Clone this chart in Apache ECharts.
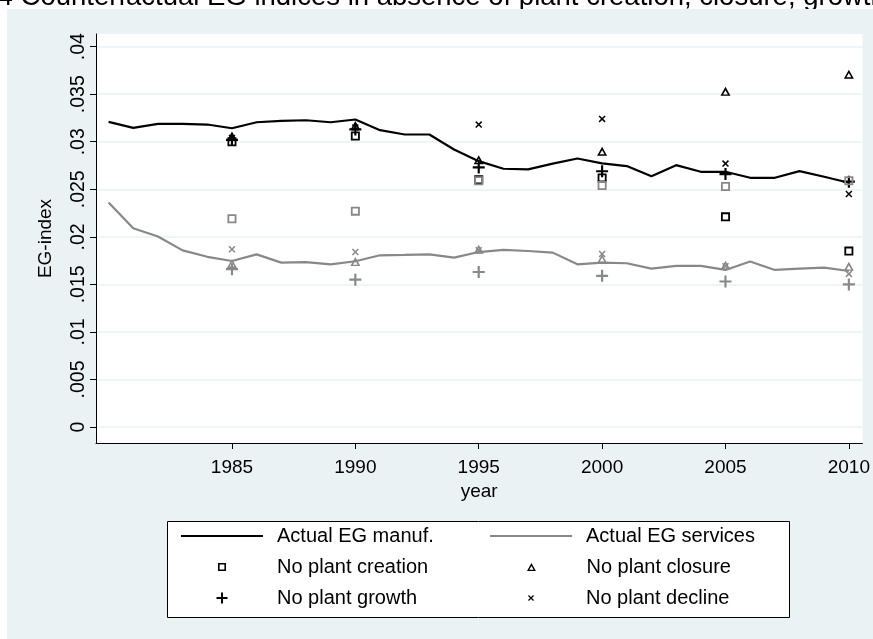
<!DOCTYPE html>
<html><head><meta charset="utf-8">
<script src="https://cdn.jsdelivr.net/npm/echarts@6/dist/echarts.min.js"></script>
<style>html,body{margin:0;padding:0;background:#fff}#c{width:873px;height:639px}</style>
</head><body><div id="c"></div>
<script>
const years = [1980,1981,1982,1983,1984,1985,1986,1987,1988,1989,1990,1991,1992,1993,1994,1995,1996,1997,1998,1999,2000,2001,2002,2003,2004,2005,2006,2007,2008,2009,2010];
const manufActual = [0.03209,0.03146,0.03188,0.03188,0.03181,0.03142,0.03205,0.03220,0.03226,0.03205,0.03234,0.03122,0.03076,0.03076,0.02919,0.02796,0.02716,0.02709,0.02770,0.02824,0.02772,0.02744,0.02638,0.02754,0.02684,0.02684,0.02621,0.02621,0.02691,0.02632,0.02569];
const servicesActual = [0.02362,0.02090,0.02003,0.01858,0.01790,0.01746,0.01816,0.01729,0.01735,0.01710,0.01743,0.01806,0.01810,0.01816,0.01781,0.01840,0.01862,0.01851,0.01834,0.01711,0.01729,0.01722,0.01666,0.01694,0.01694,0.01652,0.01740,0.01652,0.01666,0.01677,0.01641];
const cfYears = [1985,1990,1995,2000,2005,2010];
const manufNoCreation = [0.0300,0.0306,0.0260,0.0262,0.0221,0.0185];
const manufNoClosure  = [0.0306,0.0317,0.0281,0.0290,0.0353,0.0371];
const manufNoGrowth   = [0.0302,0.0313,0.0273,0.0269,0.0266,0.0258];
const manufNoDecline  = [0.0304,0.0315,0.0318,0.0324,0.0277,0.0245];
const servNoCreation  = [0.0219,0.0227,0.0259,0.0254,0.0253,0.0259];
const servNoClosure   = [0.0172,0.0174,0.0187,0.0177,0.0170,0.0169];
const servNoGrowth    = [0.0166,0.0155,0.0163,0.0159,0.0153,0.0150];
const servNoDecline   = [0.0187,0.0184,0.0186,0.0182,0.0169,0.0161];
const xTicks = [1985,1990,1995,2000,2005,2010];
const yTicks = [0,0.005,0.01,0.015,0.02,0.025,0.03,0.035,0.04];
const yTickLabels = ['0','.005','.01','.015','.02','.025','.03','.035','.04'];

const FONT = '"Liberation Sans", Arial, sans-serif';
const BLACK = '#000000', GRAY = '#888888';
const SQ = 'path://M0,0H10V10H0Z M2,2V8H8V2Z';
const TRI = 'path://M5,0L10,9H0Z M5,3.4L2.6,7.6H7.4Z';
const PLUS = 'path://M4.1,0H5.9V10H4.1Z M0,4.1H10V5.9H0Z';
const CROSS = 'path://M1.5,0L10,8.5L8.5,10L0,1.5Z M8.5,0L10,1.5L1.5,10L0,8.5Z';

function lineSeries(name, vals, color) {
  return {name, type:'line', data: years.map((y,i)=>[y, vals[i]]), symbol:'none', showSymbol:false,
    lineStyle:{color, width:2.2}, itemStyle:{color}, z:3, silent:true, animation:false};
}
function sc(name, vals, symbol, size, color) {
  return {name, type:'scatter', data: cfYears.map((y,i)=>[y, vals[i]]), symbol, symbolSize:size,
    itemStyle:{color, opacity:1}, z:4, silent:true, animation:false};
}
const TXT = {fontSize:20, fontFamily:FONT, color:'#000', padding:[0,0,0,9], lineHeight:24};
function lgLine(name, x, rowY) {
  return {data:[{name, icon:'none'}], left:x, top:rowY-12, orient:'horizontal', padding:0, itemWidth:82, itemHeight:14,
    selectedMode:false, z:5, textStyle:TXT};
}
function lgSym(name, cx, rowY, ih) {
  return {data:[name], left:cx-ih/2, top:rowY-12, orient:'horizontal', padding:0, itemWidth:82, itemHeight:ih,
    selectedMode:false, z:5, textStyle:TXT};
}

const chart = echarts.init(document.getElementById('c'), null, {renderer:'canvas'});
chart.setOption({
  animation:false,
  backgroundColor:'#ffffff',
  title:{text:'Figure 4 Counterfactual EG indices in absence of plant creation, closure, growth and decline',
    left:-88, top:-17, padding:0, z:-200,
    textStyle:{fontSize:27.5, fontWeight:'normal', fontFamily:FONT, color:'#000'}},
  graphic:{elements:[
    {type:'rect', z:-100, silent:true, shape:{x:7, y:9, width:870, height:634}, style:{fill:'#eaf2f3'}},
    {type:'rect', z:1, silent:true, shape:{x:167.5, y:521.5, width:622, height:96}, style:{fill:'#ffffff', stroke:'#000', lineWidth:1}},
    {type:'line', z:6, silent:true, shape:{x1:181, y1:536, x2:263, y2:536}, style:{stroke:BLACK, lineWidth:2.2}},
    {type:'line', z:6, silent:true, shape:{x1:490, y1:536, x2:572, y2:536}, style:{stroke:GRAY, lineWidth:2.2}}
  ]},
  grid:{left:96, right:10, top:34, bottom:196, show:true, backgroundColor:'#ffffff', borderWidth:0},
  xAxis:{type:'value', min:1979.49, max:2010.55,
    axisLine:{show:true, onZero:false, lineStyle:{color:'#000', width:1}},
    axisTick:{show:true, customValues:xTicks, length:6, lineStyle:{color:'#000', width:1}},
    axisLabel:{customValues:xTicks, formatter:v=>String(v), fontSize:19, fontFamily:FONT, color:'#000', margin:15},
    splitLine:{show:false},
    name:'year', nameLocation:'middle', nameGap:39, nameTextStyle:{fontSize:19, fontFamily:FONT, color:'#000'}},
  yAxis:{type:'value', min:-0.00168, max:0.04133,
    axisLine:{show:true, onZero:false, lineStyle:{color:'#000', width:1}},
    axisTick:{show:true, customValues:yTicks, length:6, lineStyle:{color:'#000', width:1}},
    axisLabel:{customValues:yTicks, rotate:90, fontSize:19.5, fontFamily:FONT, color:'#000', margin:7,
      formatter:v=>{const i=yTicks.findIndex(t=>Math.abs(t-v)<1e-9); return i>=0?yTickLabels[i]:'';}},
    splitLine:{show:true, customValues:yTicks, lineStyle:{color:'#eaf2f3', width:1.5}},
    name:'EG-index', nameLocation:'middle', nameRotate:90, nameGap:41,
    nameTextStyle:{fontSize:19, fontFamily:FONT, color:'#000'}},
  legend:[
    lgLine('Actual EG manuf.', 181, 536),
    lgSym('No plant creation', 222, 567, 8),
    lgSym('No plant growth', 222, 598, 11),
    lgLine('Actual EG services', 490, 536),
    lgSym('No plant closure', 531, 567, 8),
    lgSym('No plant decline', 531, 598, 6)
  ],
  series:[
    lineSeries('Actual EG manuf.', manufActual, BLACK),
    lineSeries('Actual EG services', servicesActual, GRAY),
    sc('No plant creation', manufNoCreation, SQ, [9,9], BLACK),
    sc('No plant closure', manufNoClosure, TRI, [10,9], BLACK),
    sc('No plant growth', manufNoGrowth, PLUS, [12,12], BLACK),
    sc('No plant decline', manufNoDecline, CROSS, [7,7], BLACK),
    sc('No plant creation (services)', servNoCreation, SQ, [9,9], GRAY),
    sc('No plant closure (services)', servNoClosure, TRI, [10,9], GRAY),
    sc('No plant growth (services)', servNoGrowth, PLUS, [12,12], GRAY),
    sc('No plant decline (services)', servNoDecline, CROSS, [7,7], GRAY)
  ]
});
</script></body></html>
